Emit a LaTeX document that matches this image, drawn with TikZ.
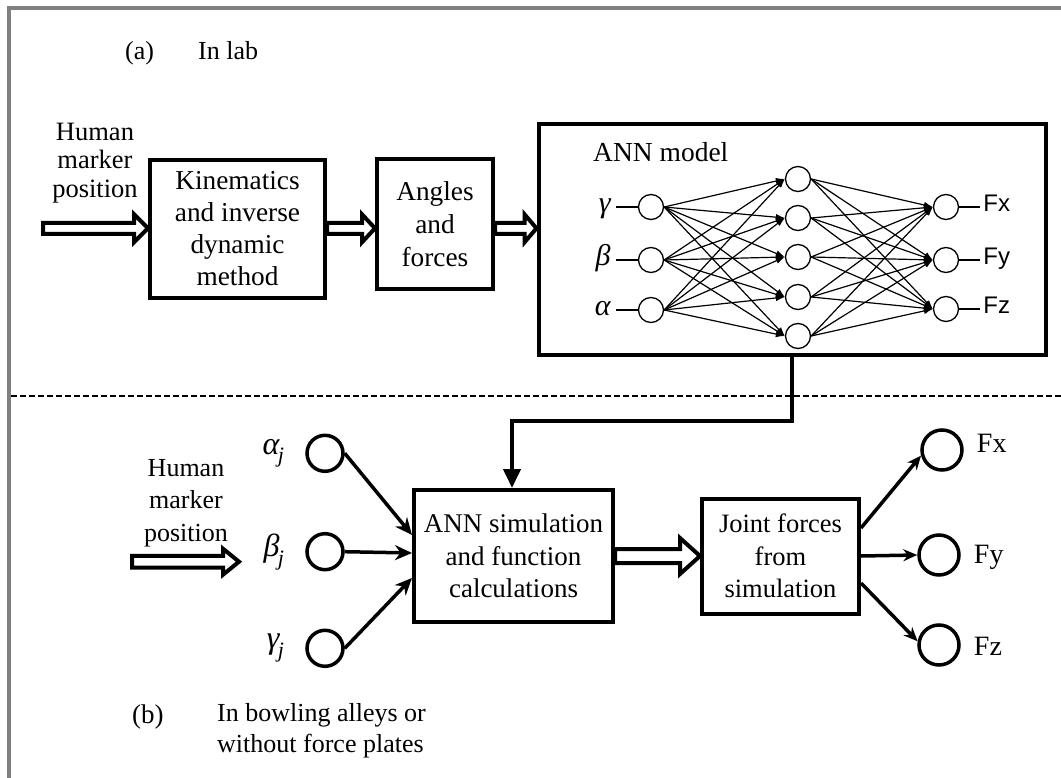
\documentclass[tikz,border=0pt]{standalone}
\usepackage{fontspec}
\setmainfont{Liberation Serif}
\newfontfamily\arialfont{Liberation Sans}
\usetikzlibrary{arrows.meta,calc}

\newcommand{\setfs}[2]{\fontsize{#1}{#2}\selectfont}
% open block arrow from #1 to #2: shaft half-height #3, head half-height #4, head length #5
\newcommand{\hollowarrow}[5]{%
  \draw[hollow] let \p1=(#1), \p2=(#2) in
    (\x1,\y1+#3) -- (\x2-#5,\y1+#3) -- (\x2-#5,\y1+#4) -- (\x2,\y1)
    -- (\x2-#5,\y1-#4) -- (\x2-#5,\y1-#3) -- (\x1,\y1-#3) -- cycle;}
% Greek symbol with a subscript j, set close to it
\newcommand{\subj}[1]{#1\kern-0.05em\raisebox{-0.28em}{\fontsize{22}{24}\selectfont j}}

\begin{document}
\begin{tikzpicture}[x=1pt,y=-1pt,
  every node/.style={inner sep=0pt},
  blk/.style={draw, line width=4pt, align=center},
  hollow/.style={draw, line width=4pt, fill=white, line join=miter},
  neuron/.style={circle, draw, line width=1.3pt, minimum size=25pt},
  annedge/.style={line width=1.2pt, -{Latex[length=9pt,width=6.5pt]}},
  tick/.style={line width=1.3pt},
  inball/.style={circle, draw, line width=3.5pt, minimum size=36pt},
  outball/.style={circle, draw, line width=3.5pt, minimum size=40pt},
  feed/.style={line width=3.5pt, -{Stealth[length=17pt,width=15pt]}},
  outfeed/.style={line width=3.5pt, -{Stealth[length=14pt,width=12pt]}},
  link/.style={line width=4pt, -{Triangle[length=19pt,width=17pt]}},
]
\useasboundingbox (0,0) rectangle (1061,778);
\fill[white] (0,0) rectangle (1061,778);

% outer frame (top and left edges)
\draw[line width=4pt, color={rgb,255:red,128;green,128;blue,128}] (9.3,778) -- (9.3,8) -- (1061,8);

% ---------------- (a) in lab ----------------
\node[anchor=base west, font=\setfs{26}{30}] (lab-a) at (125,60) {(a)};
\node[anchor=base west, font=\setfs{26}{30}] (lab-a-txt) at (198,60) {In lab};

\node[align=center, font=\setfs{26.5}{28.3}] (hmp-a) at (95,163) {Human\\marker\\position};
\coordinate (ha) at (43,228.3);

\node[blk, minimum width=175pt, minimum height=138pt, font=\setfs{27.3}{32}] (kin) at (237.5,229)
  {Kinematics\\and inverse\\dynamic\\method};
\node[blk, minimum width=116pt, minimum height=130pt, font=\setfs{27.3}{33}] (ang) at (435,224.5)
  {Angles\\and\\forces};
\node[draw, line width=4pt, minimum width=507pt, minimum height=231pt] (ann) at (792,239.5) {};

\hollowarrow{ha}{kin.west}{5.5pt}{14pt}{14pt}
\hollowarrow{[yshift=0.7pt]kin.east}{ang.west}{5.5pt}{14pt}{13pt}
\hollowarrow{[yshift=-3.8pt]ang.east}{ann.west}{5.5pt}{14pt}{12pt}

% ANN model inside the box
\node[anchor=base west, font=\setfs{27.5}{30}] (ann-title) at (593,162) {ANN model};

\node[neuron] (ig) at (651,207) {};
\node[neuron] (ib) at (651,260) {};
\node[neuron] (ia) at (651,310) {};
\foreach \n/\y in {h1/179,h2/218,h3/257,h4/297,h5/336}
  \node[neuron] (\n) at (798,\y) {};
\node[neuron] (ox) at (946,207) {};
\node[neuron] (oy) at (946,260) {};
\node[neuron] (oz) at (946,309) {};

\foreach \i in {ig,ib,ia}
  \foreach \j in {h1,h2,h3,h4,h5}
    \draw[annedge] (\i.east) -- (\j.west);
\foreach \j in {h1,h2,h3,h4,h5}
  \foreach \k in {ox,oy,oz}
    \draw[annedge] (\j.east) -- (\k.west);

\foreach \n/\s in {ig/γ,ib/β,ia/α}{
  \coordinate (\n-t) at ([xshift=-22pt]\n.west);
  \draw[tick] (\n.west) -- (\n-t);
  \node[anchor=base east, font=\setfs{30}{32}\itshape] (\n-lab) at ([xshift=-5pt,yshift=-6pt]\n-t) {\s};
}
\foreach \n/\s in {ox/Fx,oy/Fy,oz/Fz}{
  \coordinate (\n-t) at ([xshift=21pt]\n.east);
  \draw[tick] (\n.east) -- (\n-t);
  \node[anchor=base west, font=\arialfont\setfs{24}{28}] (\n-lab) at ([xshift=3pt,yshift=-5pt]\n-t) {\s};
}

% divider between the two set-ups
\draw[line width=2pt, dash pattern=on 5.5pt off 3.5pt] (11,396) -- (1061,396);

% ---------------- (b) outside the lab ----------------
\node[blk, minimum width=199pt, minimum height=132pt, font=\setfs{27}{32.5}] (sim) at (513.5,556)
  {ANN simulation\\and function\\calculations};
\node[blk, minimum width=157pt, minimum height=115pt, font=\setfs{26.5}{32.5}] (joint) at (780.5,556)
  {Joint forces\\from\\simulation};

\coordinate (drop) at (512,421);
\draw[link] (ann.south) |- (drop) -- (drop |- sim.north);

\hollowarrow{sim.east}{joint.west}{7pt}{18pt}{20pt}

\node[align=center, font=\setfs{26}{32.5}] (hmp-b) at (186,503) {Human\\marker\\position};
\coordinate (hb) at (132,561.7);
\coordinate (hbe) at (239,561.7);
\hollowarrow{hb}{hbe}{5.8pt}{13pt}{16pt}

\node[inball] (aj) at (325,453.3) {};
\node[inball] (bj) at (325,551.7) {};
\node[inball] (gj) at (325,648.3) {};
\node[anchor=east, font=\setfs{32}{34}\itshape] (aj-lab) at ([xshift=-21pt]aj.west) {\subj{α}};
\node[anchor=east, font=\setfs{32}{34}\itshape] (bj-lab) at ([xshift=-21pt]bj.west) {\subj{β}};
\node[anchor=east, font=\setfs{32}{34}\itshape] (gj-lab) at ([xshift=-21pt]gj.west) {\subj{γ}};

\draw[feed] (aj.east) -- ([yshift=21pt]sim.west);
\draw[feed] (bj.east) -- ([yshift=3pt]sim.west);
\draw[feed] (gj.east) -- ([yshift=-22pt]sim.west);

\node[outball] (fx) at (942,450) {};
\node[outball] (fy) at (939,555) {};
\node[outball] (fz) at (939,645) {};
\draw[outfeed] ([yshift=28pt]joint.east) -- (fx.195);
\draw[outfeed] (joint.east) -- (fy.west);
\draw[outfeed] ([yshift=-27pt]joint.east) -- (fz.170);
\node[anchor=base west, font=\setfs{28}{30}] (fx-lab) at ([xshift=13pt,yshift=-2pt]fx.east) {Fx};
\node[anchor=base west, font=\setfs{28}{30}] (fy-lab) at ([xshift=13pt,yshift=-8pt]fy.east) {Fy};
\node[anchor=base west, font=\setfs{28}{30}] (fz-lab) at ([xshift=13pt,yshift=-10pt]fz.east) {Fz};

\node[anchor=base west, font=\setfs{27}{30}] (lab-b) at (132,723) {(b)};
\node[anchor=west, align=left, font=\setfs{26}{31}] (lab-b-txt) at (217,731)
  {In bowling alleys or\\without force plates};
\end{tikzpicture}
\end{document}
